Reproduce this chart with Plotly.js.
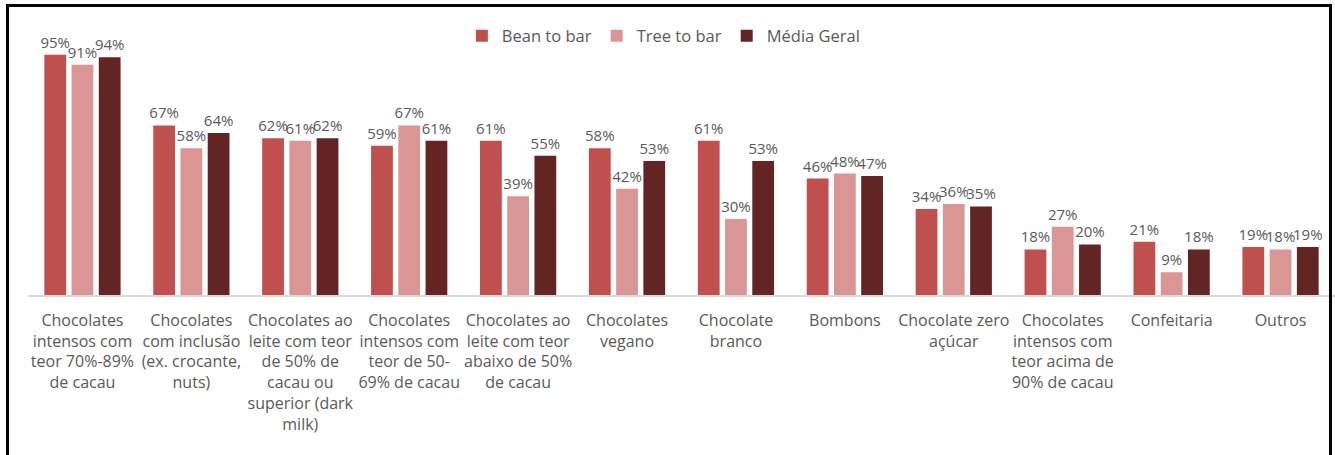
<!DOCTYPE html>
<html>
<head>
<meta charset="utf-8">
<script src="https://cdn.plot.ly/plotly-3.0.1.min.js"></script>
<style>
html,body{margin:0;padding:0;background:#fff;}
#wrap{position:relative;width:1335px;height:455px;overflow:hidden;}
#chart{position:absolute;left:0;top:0;width:1335px;height:455px;}
#frame{position:absolute;left:6px;top:4px;width:1320px;height:470px;border:3px solid #000;pointer-events:none;}
</style>
</head>
<body>
<div id="wrap"><div id="chart"></div><div id="frame"></div></div>
<script>
const categories = [
  "Chocolates intensos com teor 70%-89% de cacau",
  "Chocolates com inclusão (ex. crocante, nuts)",
  "Chocolates ao leite com teor de 50% de cacau ou superior (dark milk)",
  "Chocolates intensos com teor de 50-69% de cacau",
  "Chocolates ao leite com teor abaixo de 50% de cacau",
  "Chocolates vegano",
  "Chocolate branco",
  "Bombons",
  "Chocolate zero açúcar",
  "Chocolates intensos com teor acima de 90% de cacau",
  "Confeitaria",
  "Outros"
];
const tickLabels = [
  "Chocolates<br>intensos com<br>teor 70%-89%<br>de cacau",
  "Chocolates<br>com inclusão<br>(ex. crocante,<br>nuts)",
  "Chocolates ao<br>leite com teor<br>de 50% de<br>cacau ou<br>superior (dark<br>milk)",
  "Chocolates<br>intensos com<br>teor de 50-<br>69% de cacau",
  "Chocolates ao<br>leite com teor<br>abaixo de 50%<br>de cacau",
  "Chocolates<br>vegano",
  "Chocolate<br>branco",
  "Bombons",
  "Chocolate zero<br>açúcar",
  "Chocolates<br>intensos com<br>teor acima de<br>90% de cacau",
  "Confeitaria",
  "Outros"
];
const seriesNames = ["Bean to bar", "Tree to bar", "Média Geral"];
const beanToBar  = [95, 67, 62, 59, 61, 58, 61, 46, 34, 18, 21, 19];
const treeToBar  = [91, 58, 61, 67, 39, 42, 30, 48, 36, 27, 9, 18];
const mediaGeral = [94, 64, 62, 61, 55, 53, 53, 47, 35, 20, 18, 19];
const colors = ["#C0504D", "#D99694", "#632523"];

const fontFam = "'Open Sans', 'Noto Sans', sans-serif";
const series = [beanToBar, treeToBar, mediaGeral];
const traces = series.map((vals, i) => ({
  type: "bar",
  name: seriesNames[i],
  x: categories,
  y: vals,
  marker: {color: colors[i]},
  text: vals.map(v => v + "%"),
  textposition: "outside",
  constraintext: "none",
  cliponaxis: false,
  textfont: {family: fontFam, size: 15, color: "#595959"},
  hoverinfo: "x+y"
}));

const layout = {
  width: 1335, height: 455,
  margin: {l: 27.5, r: 0, t: 42, b: 160},
  paper_bgcolor: "#fff", plot_bgcolor: "#fff",
  barmode: "group",
  bargap: 0.25,
  bargroupgap: 0.2,
  font: {family: fontFam, color: "#595959"},
  showlegend: true,
  legend: {
    orientation: "h", x: 0.4865, xanchor: "center", y: 1.024, yanchor: "middle",
    font: {family: fontFam, size: 16.5, color: "#595959"},
    traceorder: "normal", itemwidth: 30
  },
  xaxis: {
    type: "category",
    tickmode: "array", tickvals: categories, ticktext: tickLabels,
    tickfont: {family: fontFam, size: 16, color: "#595959"},
    showline: true, linecolor: "#D9D9D9", linewidth: 1.5,
    ticks: "", showgrid: false, zeroline: false,
    tickangle: 0, automargin: false, ticklabelstandoff: 10
  },
  yaxis: {
    range: [0, 100], visible: false, showgrid: false, zeroline: false, fixedrange: true
  }
};
Plotly.newPlot("chart", traces, layout, {displayModeBar: false, staticPlot: true});
</script>
</body>
</html>
